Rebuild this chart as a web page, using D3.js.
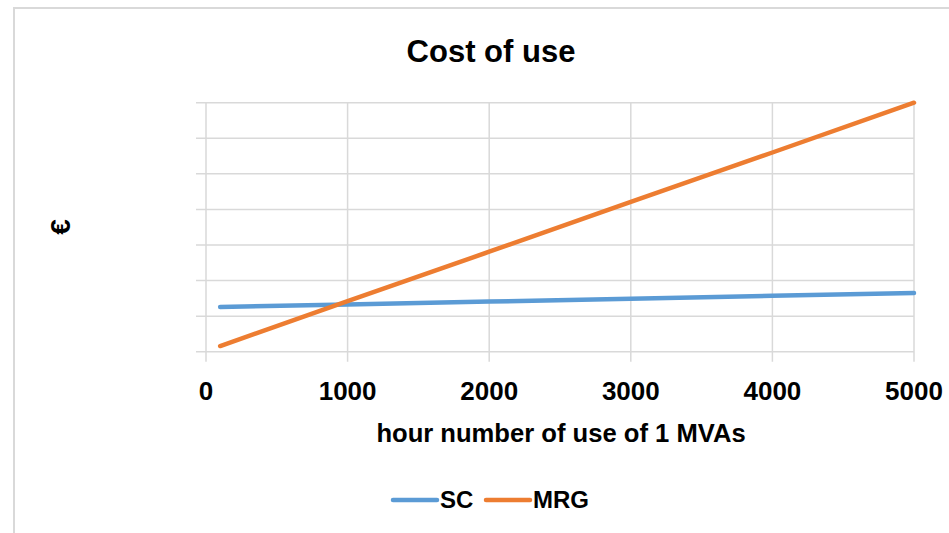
<!DOCTYPE html>
<html>
<head>
<meta charset="utf-8">
<script src="https://cdn.jsdelivr.net/npm/d3@7"></script>
<style>
  body { margin: 0; background: #fff; }
  text { font-family: "Liberation Sans", Arial, sans-serif; fill: #000; }
</style>
</head>
<body>
<svg width="949" height="533"></svg>
<script>
// data
const hours = [100, 1000, 2000, 3000, 4000, 5000];
const sc = [1.26, 1.33, 1.41, 1.49, 1.57, 1.65];
const mrg = [0.16, 1.42, 2.81, 4.21, 5.60, 7.0];
const seriesNames = ['SC', 'MRG'];
const seriesColors = ['#5b9bd5', '#ed7d31'];
const xTicks = [0, 1000, 2000, 3000, 4000, 5000];
const yTicks = [0, 1, 2, 3, 4, 5, 6, 7];

const svg = d3.select("svg");

// chart border
svg.append("path")
  .attr("d", "M14,534 L14,8 L950,8")
  .attr("fill", "none")
  .attr("stroke", "#d9d9d9")
  .attr("stroke-width", 2);

const x = d3.scaleLinear().domain([0, 5000]).range([206, 914]);
const y = d3.scaleLinear().domain([0, 7]).range([351.7, 102.7]);

// gridlines
svg.append("g")
  .selectAll("line")
  .data(yTicks)
  .enter().append("line")
    .attr("x1", 196).attr("x2", x(5000))
    .attr("y1", d => y(d)).attr("y2", d => y(d))
    .attr("stroke", "#d9d9d9").attr("stroke-width", 1.5);

svg.append("g")
  .selectAll("line")
  .data(xTicks)
  .enter().append("line")
    .attr("x1", d => x(d)).attr("x2", d => x(d))
    .attr("y1", y(7)).attr("y2", y(0) + 10)
    .attr("stroke", "#d9d9d9").attr("stroke-width", 1.5);

// x tick labels
svg.append("g")
  .selectAll("text")
  .data(xTicks)
  .enter().append("text")
    .attr("x", d => x(d))
    .attr("y", 400)
    .attr("text-anchor", "middle")
    .attr("font-size", 26)
    .attr("font-weight", "bold")
    .text(d => d);

// lines
const line = d3.line()
  .x((d, i) => x(hours[i]))
  .y(d => y(d));

[sc, mrg].forEach((vals, k) => {
  svg.append("path")
    .datum(vals)
    .attr("d", line)
    .attr("fill", "none")
    .attr("stroke", seriesColors[k])
    .attr("stroke-width", 4.5)
    .attr("stroke-linecap", "round");
});

// titles
svg.append("text")
  .attr("x", 491).attr("y", 62)
  .attr("text-anchor", "middle")
  .attr("font-size", 31)
  .attr("font-weight", "bold")
  .text("Cost of use");

svg.append("text")
  .attr("x", 561).attr("y", 442)
  .attr("text-anchor", "middle")
  .attr("font-size", 25.6)
  .attr("font-weight", "bold")
  .text("hour number of use of 1 MVAs");

svg.append("text")
  .attr("transform", "translate(70,227) rotate(-90)")
  .attr("text-anchor", "middle")
  .attr("font-size", 28)
  .attr("font-weight", "bold")
  .text("€");

// legend
const legX = [393, 486];
seriesNames.forEach((name, k) => {
  svg.append("line")
    .attr("x1", legX[k]).attr("x2", legX[k] + 44)
    .attr("y1", 500).attr("y2", 500)
    .attr("stroke", seriesColors[k])
    .attr("stroke-width", 4.5)
    .attr("stroke-linecap", "round");
  svg.append("text")
    .attr("x", legX[k] + 47).attr("y", 508)
    .attr("font-size", 24)
    .attr("font-weight", "bold")
    .text(name);
});
</script>
</body>
</html>
